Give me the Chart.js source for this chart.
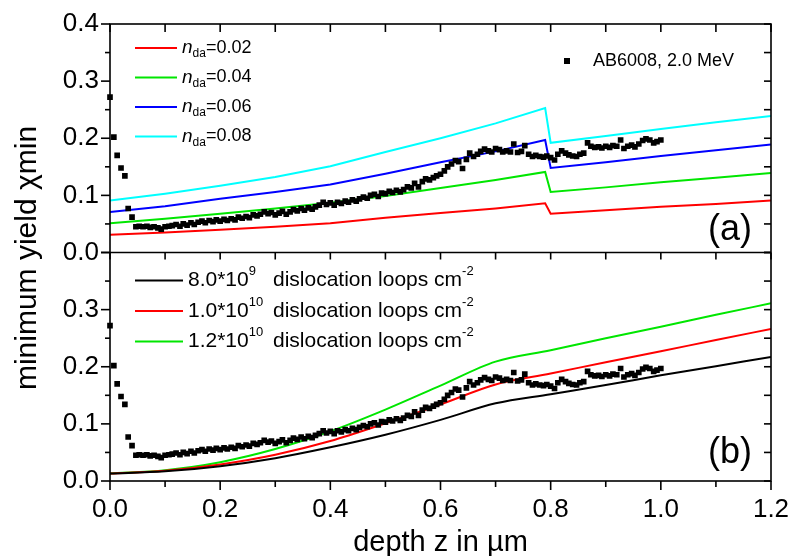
<!DOCTYPE html>
<html>
<head>
<meta charset="utf-8">
<script src="https://cdn.jsdelivr.net/npm/chart.js@4.4.0/dist/chart.umd.min.js"></script>
<style>
  html, body { margin: 0; padding: 0; background: #fff; }
  #wrap { width: 791px; height: 556px; }
</style>
</head>
<body>
<div id="wrap"><canvas id="chart"></canvas></div>
<script>
// measured minimum yield vs depth (shown in both panels)
const depth = [
  0.000,0.007,0.013,0.020,0.027,0.033,0.040,0.047,0.053,0.060,
  0.067,0.073,0.080,0.087,0.093,0.100,0.107,0.113,0.120,0.127,
  0.133,0.140,0.147,0.153,0.160,0.167,0.173,0.180,0.187,0.193,
  0.200,0.207,0.213,0.220,0.227,0.233,0.240,0.247,0.253,0.260,
  0.267,0.273,0.280,0.287,0.293,0.300,0.307,0.313,0.320,0.327,
  0.333,0.340,0.347,0.353,0.360,0.367,0.373,0.380,0.387,0.393,
  0.400,0.407,0.413,0.420,0.427,0.433,0.440,0.447,0.453,0.460,
  0.467,0.473,0.480,0.487,0.493,0.500,0.507,0.513,0.520,0.527,
  0.533,0.540,0.547,0.553,0.560,0.567,0.573,0.580,0.587,0.593,
  0.600,0.607,0.613,0.620,0.627,0.633,0.640,0.647,0.653,0.660,
  0.667,0.673,0.680,0.687,0.693,0.700,0.707,0.713,0.720,0.727,
  0.733,0.740,0.747,0.753,0.760,0.767,0.773,0.780,0.787,0.793,
  0.800,0.807,0.813,0.820,0.827,0.833,0.840,0.847,0.853,0.860,
  0.867,0.873,0.880,0.887,0.893,0.900,0.907,0.913,0.920,0.927,
  0.933,0.940,0.947,0.953,0.960,0.967,0.973,0.980,0.987,0.993,
  1.000
];
const chiMin = [
  0.272,0.202,0.170,0.148,0.134,0.077,0.062,0.045,0.046,0.045,
  0.046,0.044,0.045,0.043,0.041,0.045,0.046,0.047,0.049,0.046,
  0.050,0.048,0.052,0.049,0.053,0.055,0.052,0.056,0.054,0.057,
  0.055,0.058,0.056,0.059,0.057,0.062,0.060,0.063,0.061,0.066,
  0.064,0.067,0.071,0.068,0.070,0.066,0.069,0.072,0.067,0.071,
  0.075,0.073,0.077,0.074,0.078,0.076,0.080,0.083,0.088,0.084,
  0.087,0.083,0.088,0.086,0.090,0.088,0.092,0.090,0.094,0.097,
  0.095,0.100,0.102,0.098,0.104,0.103,0.107,0.105,0.109,0.106,
  0.110,0.115,0.113,0.121,0.115,0.124,0.129,0.127,0.131,0.134,
  0.137,0.143,0.150,0.155,0.161,0.159,0.147,0.163,0.174,0.168,
  0.172,0.177,0.181,0.178,0.176,0.182,0.180,0.176,0.178,0.176,
  0.190,0.175,0.177,0.187,0.172,0.168,0.170,0.168,0.167,0.169,
  0.166,0.162,0.172,0.178,0.174,0.171,0.169,0.168,0.172,0.174,
  0.192,0.186,0.184,0.185,0.183,0.186,0.184,0.187,0.186,0.197,
  0.182,0.186,0.188,0.185,0.190,0.196,0.199,0.197,0.192,0.194,
  0.197
];

// panel (a): calculated yield for different n_da
const ndaDepth = [0, 0.1, 0.2, 0.3, 0.4, 0.5, 0.6, 0.7, 0.79, 0.8, 0.9, 1.0, 1.1, 1.2];
const ndaLabels = ['0.02', '0.04', '0.06', '0.08'];
const nda002 = [0.031, 0.035, 0.040, 0.045, 0.051, 0.061, 0.069, 0.077, 0.086, 0.068, 0.074, 0.080, 0.085, 0.091];
const nda004 = [0.051, 0.059, 0.068, 0.077, 0.087, 0.099, 0.113, 0.127, 0.141, 0.106, 0.114, 0.123, 0.131, 0.139];
const nda006 = [0.071, 0.081, 0.094, 0.106, 0.119, 0.138, 0.158, 0.177, 0.197, 0.148, 0.158, 0.169, 0.179, 0.189];
const nda008 = [0.091, 0.103, 0.117, 0.132, 0.151, 0.176, 0.200, 0.226, 0.253, 0.192, 0.204, 0.216, 0.228, 0.239];

// panel (b): calculated yield for dislocation loop densities
const loopDepth = [0, 0.1, 0.2, 0.3, 0.4, 0.5, 0.6, 0.7, 0.8, 0.9, 1.0, 1.1, 1.2];
const loopMantissa = ['8.0*10', '1.0*10', '1.2*10'];
const loopExponent = ['9', '10', '10'];
const loops08e10 = [0.013, 0.017, 0.026, 0.040, 0.059, 0.081, 0.107, 0.136, 0.152, 0.168, 0.185, 0.201, 0.217];
const loops10e10 = [0.013, 0.018, 0.029, 0.046, 0.070, 0.101, 0.134, 0.169, 0.188, 0.208, 0.227, 0.247, 0.266];
const loops12e10 = [0.013, 0.019, 0.033, 0.056, 0.087, 0.125, 0.167, 0.209, 0.229, 0.250, 0.270, 0.291, 0.311];

const FONT = "'Liberation Sans', Arial, sans-serif";
const ndaColors = ['#ff0000', '#00e600', '#0000ff', '#00ffff'];
const loopColors = ['#000000', '#ff0000', '#00e600'];

function pts(xs, ys) {
  return xs.map((x, i) => ({ x: x, y: ys[i] }));
}

function lineSet(label, xs, ys, color, axis, smooth) {
  const ds = {
    label: label, data: pts(xs, ys), yAxisID: axis,
    borderColor: color, backgroundColor: color, borderWidth: 2,
    pointRadius: 0, tension: 0, fill: false
  };
  if (smooth) ds.cubicInterpolationMode = 'monotone';
  return ds;
}

function scatterSet(axis) {
  return {
    label: 'AB6008, 2.0 MeV', data: pts(depth, chiMin), yAxisID: axis,
    showLine: false, pointStyle: 'rect', pointRadius: 4, pointHoverRadius: 4,
    backgroundColor: '#000', borderColor: '#000', borderWidth: 0, clip: 6
  };
}

// draws a run of text pieces (italic / sub / superscript) from x, returns end x
function drawRich(ctx, x, y, parts) {
  for (const p of parts) {
    ctx.font = (p.italic ? 'italic ' : '') + p.size + 'px ' + FONT;
    ctx.fillText(p.t, x, y + (p.dy || 0));
    x += ctx.measureText(p.t).width;
  }
  return x;
}

const framePlugin = {
  id: 'frame',
  afterDatasetsDraw(chart) {
    const { ctx, chartArea: a, scales } = chart;
    const xs = scales.x, yT = scales.yTop, yB = scales.yBot;
    const mid = yT.bottom;
    ctx.save();
    ctx.strokeStyle = '#000';
    ctx.fillStyle = '#000';
    ctx.lineWidth = 1.6;
    const seg = (x1, y1, x2, y2) => { ctx.beginPath(); ctx.moveTo(x1, y1); ctx.lineTo(x2, y2); ctx.stroke(); };

    ctx.strokeRect(a.left, a.top, a.right - a.left, a.bottom - a.top);
    seg(a.left, mid, a.right, mid);

    // x ticks
    for (let i = 0; i <= 12; i++) {
      const px = xs.getPixelForValue(i / 10);
      seg(px, a.top, px, a.top + 8);
      seg(px, mid, px, mid + 7);
      seg(px, a.bottom, px, a.bottom + (i % 2 === 0 ? 9 : 6));
    }
    // y ticks, both panels
    for (const ys of [yT, yB]) {
      for (let j = 0; j <= 8; j++) {
        const py = ys.getPixelForValue(j * 0.05);
        seg(a.left - (j % 2 === 0 ? 9 : 5), py, a.left, py);
        seg(a.right - 7, py, a.right, py);
      }
    }

    ctx.textBaseline = 'middle';
    ctx.textAlign = 'left';

    // legend, panel (a)
    chart.data.datasets.forEach((ds) => {
      if (ds.ndaIndex === undefined) return;
      const k = ds.ndaIndex;
      const ly = a.top + 24 + k * 29.5;
      ctx.strokeStyle = ds.borderColor;
      ctx.lineWidth = 2;
      seg(a.left + 25, ly, a.left + 67, ly);
      drawRich(ctx, a.left + 72, ly, [
        { t: 'n', size: 19, italic: true },
        { t: 'da', size: 12, dy: 6 },
        { t: '=' + ndaLabels[k], size: 18 }
      ]);
    });
    // data legend
    ctx.fillRect(564, a.top + 34, 6, 6);
    ctx.font = '18px ' + FONT;
    ctx.fillText('AB6008, 2.0 MeV', 593, a.top + 37);

    // legend, panel (b)
    chart.data.datasets.forEach((ds) => {
      if (ds.loopIndex === undefined) return;
      const k = ds.loopIndex;
      const ly = mid + 28 + k * 30.5;
      ctx.strokeStyle = ds.borderColor;
      ctx.lineWidth = 2;
      seg(a.left + 25, ly, a.left + 73, ly);
      ctx.fillStyle = '#000';
      drawRich(ctx, a.left + 78, ly, [
        { t: loopMantissa[k], size: 21 },
        { t: loopExponent[k], size: 13, dy: -9 }
      ]);
      const ex = drawRich(ctx, a.left + 163, ly, [{ t: 'dislocation loops cm', size: 21 }]);
      drawRich(ctx, ex, ly, [{ t: '-2', size: 13, dy: -9 }]);
    });

    // panel tags
    ctx.font = '36px ' + FONT;
    ctx.textAlign = 'right';
    ctx.fillText('(a)', a.right - 19, mid - 22);
    ctx.fillText('(b)', a.right - 19, a.bottom - 28);

    // axis titles
    ctx.textAlign = 'center';
    ctx.textBaseline = 'alphabetic';
    ctx.font = '29px ' + FONT;
    ctx.fillText('depth z in µm', (a.left + a.right) / 2, 551);

    ctx.translate(36, 258);
    ctx.rotate(-Math.PI / 2);
    ctx.font = '30px ' + FONT;
    ctx.fillText('minimum yield χmin', 0, 0);
    ctx.restore();
  }
};

const datasets = [scatterSet('yTop'), scatterSet('yBot')];
[nda002, nda004, nda006, nda008].forEach((ys, k) => {
  const ds = lineSet('n_da=' + ndaLabels[k], ndaDepth, ys, ndaColors[k], 'yTop', false);
  ds.ndaIndex = k;
  datasets.push(ds);
});
[loops08e10, loops10e10, loops12e10].forEach((ys, k) => {
  const ds = lineSet(loopMantissa[k] + '^' + loopExponent[k], loopDepth, ys, loopColors[k], 'yBot', true);
  ds.loopIndex = k;
  datasets.push(ds);
});

const tickFont = { family: FONT, size: 26 };
const fix1 = (v) => Number(v).toFixed(1);

new Chart(document.getElementById('chart'), {
  type: 'line',
  data: { datasets: datasets },
  options: {
    responsive: true,
    maintainAspectRatio: false,
    animation: false,
    events: [],
    layout: { padding: { top: 24, right: 20, left: 0, bottom: 0 } },
    plugins: { legend: { display: false }, tooltip: { enabled: false } },
    scales: {
      x: {
        type: 'linear', min: 0, max: 1.2,
        grid: { display: false, drawTicks: false },
        border: { display: false },
        ticks: { stepSize: 0.2, callback: fix1, font: tickFont, color: '#000', padding: 13, maxRotation: 0, autoSkip: false },
        afterFit: (s) => { s.height = 75; s.paddingLeft = 0; s.paddingRight = 0; }
      },
      // the stack is laid out bottom-up, so the lower panel comes first
      yBot: {
        type: 'linear', position: 'left', stack: 'panels', stackWeight: 1,
        min: 0, max: 0.4,
        grid: { display: false, drawTicks: false },
        border: { display: false },
        ticks: {
          stepSize: 0.1, font: tickFont, color: '#000', padding: 11, autoSkip: false,
          callback: (v) => (Math.abs(v - 0.4) < 1e-9 ? '' : fix1(v))
        },
        afterFit: (s) => { s.width = 110; s.paddingTop = 0; s.paddingBottom = 0; }
      },
      yTop: {
        type: 'linear', position: 'left', stack: 'panels', stackWeight: 1,
        min: 0, max: 0.4,
        grid: { display: false, drawTicks: false },
        border: { display: false },
        ticks: { stepSize: 0.1, callback: fix1, font: tickFont, color: '#000', padding: 11, autoSkip: false },
        afterFit: (s) => { s.width = 110; s.paddingTop = 0; s.paddingBottom = 0; }
      }
    }
  },
  plugins: [framePlugin]
});
</script>
</body>
</html>
